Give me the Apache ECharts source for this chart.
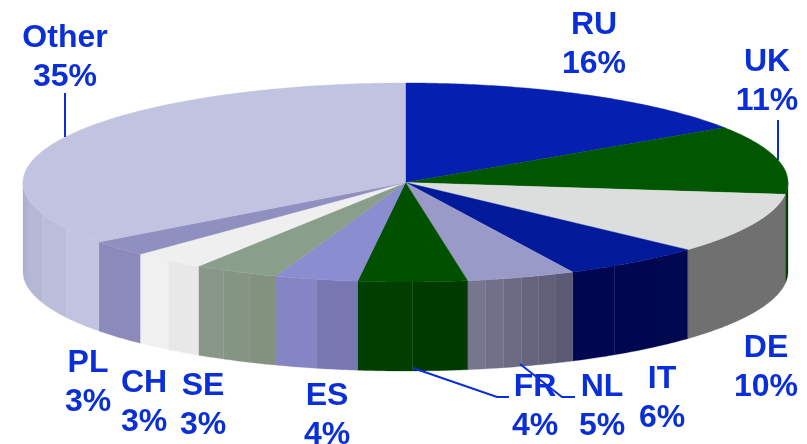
<!DOCTYPE html>
<html><head><meta charset="utf-8">
<style>html,body{margin:0;padding:0;background:#fff}#c{width:807px;height:444px}</style>
<script src="https://cdn.jsdelivr.net/npm/echarts@6/dist/echarts.min.js"></script>
</head><body><div id="c"></div>
<script>
const categories = ['RU','UK','DE','IT','NL','FR','ES','SE','CH','PL','Other'];
const shares = [15.7,11.2,9.9,6,4.6,4.6,3.5,3.6,3.1,2.6,35.2];
const shareLabels = ['16%','11%','10%','6%','5%','4%','4%','3%','3%','3%','35%'];
const topColors = ['#0520b0','#005700','#dcdedd','#001a9a','#9a9ac8','#005000','#8b8dd1','#8a9e8c','#efefef','#8f8fc0','#c1c3e0'];
const sideLeft  = ['#001070','#003f00','#707070','#00064f','#76768f','#003f00','#8585c5','#88978a','#f0f0f0','#8b8aba','#b0b1d0'];
const sideRight = ['#001070','#003f00','#6e6e6e','#000850','#5a5a74','#003a00','#7777b2','#82927e','#e8e8e8','#8b8aba','#c1c3e0'];
const bands = [1,1,1,3,6,2,2,3,2,1,4];

const CX=405.5, CY=182.5, RX=382.5, RY=99.5, DEPTH=89;
const total = shares.reduce((a,b)=>a+b,0);
const pt=(t,dy)=>[CX+RX*Math.sin(t), CY-RY*Math.cos(t)+(dy||0)];
function lerp(a,b,f){const p=s=>[1,3,5].map(i=>parseInt(s.substr(i,2),16));const A=p(a),B=p(b);
  return 'rgb('+A.map((v,i)=>Math.round(v+(B[i]-v)*f)).join(',')+')';}
function arc(a,b,dy){const n=Math.max(2,Math.ceil((b-a)/0.01)),o=[];
  for(let k=0;k<=n;k++)o.push(pt(a+(b-a)*k/n,dy));return o;}

function renderItem(params,api){
  const i=params.dataIndex;
  let before=0;for(let k=0;k<i;k++)before+=shares[k];
  const a0=before/total*2*Math.PI, a1=(before+api.value(0))/total*2*Math.PI;
  const children=[];
  const s0=Math.max(a0,Math.PI/2), s1=Math.min(a1,1.5*Math.PI);
  if(s1>s0){
    const n=bands[i];
    for(let k=0;k<n;k++){
      // angles run left-going along the front, so the band nearest s1 is the leftmost
      const b0=s0+(s1-s0)*k/n, b1=s0+(s1-s0)*(k+1)/n;
      const col=n===1?sideLeft[i]:lerp(sideRight[i],sideLeft[i],k/(n-1));
      children.push({type:'polygon',z2:1,shape:{points:arc(b0,b1,0).concat(arc(b0,b1,DEPTH).reverse())},
        style:{fill:col,stroke:col,lineWidth:0.3}});
    }
  }
  children.push({type:'polygon',z2:2,shape:{points:[[CX,CY]].concat(arc(a0,a1,0))},
    style:{fill:topColors[i],stroke:topColors[i],lineWidth:0.4}});
  return {type:'group',children};
}

const BLUE='#0a2fd6';
const labelPos={RU:[594,45],UK:[767,82],DE:[766,368],IT:[662,399],NL:[602,407],FR:[535,407],ES:[327,416],SE:[203,406],CH:[144,403],PL:[88,383],Other:[65,58]};
const labels=categories.map((c,i)=>({type:'text',x:labelPos[c][0],y:labelPos[c][1],z:10,
  style:{text:c+'\n'+shareLabels[i],align:'center',verticalAlign:'middle',fill:BLUE,
    font:'bold 32px "Liberation Sans", Arial, sans-serif',lineHeight:39}}));
const leader=p=>({type:'polyline',z:9,shape:{points:p},style:{stroke:BLUE,lineWidth:2,fill:null}});
const leaders=[leader([[65,93],[65,137]]),leader([[778,120],[778,160]]),
  leader([[413,368],[497,397],[509,397]]),leader([[520,364],[562,397],[575,397]])];

const chart=echarts.init(document.getElementById('c'),null,{renderer:'canvas'});
chart.setOption({animation:false,backgroundColor:'#fff',
  series:[{type:'custom',coordinateSystem:'none',renderItem,silent:true,clip:false,
    data:shares.map((v,i)=>({name:categories[i],value:[v]}))}],
  graphic:{elements:leaders.concat(labels)}});
</script></body></html>
